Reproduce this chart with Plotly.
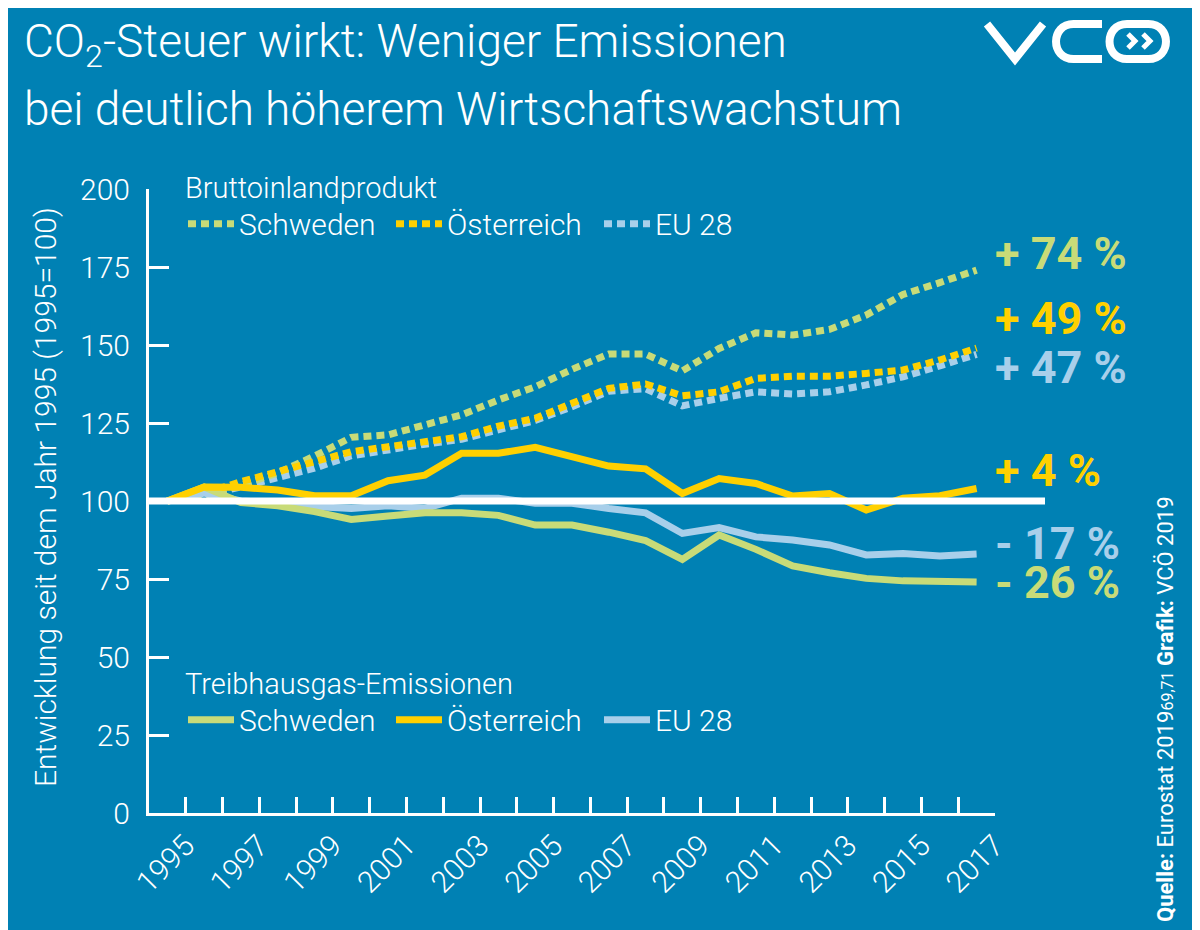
import plotly.graph_objects as go

years = list(range(1995, 2018))

bip_schweden = [100, 102, 105, 109, 114.4, 120.4, 121.2, 124.4, 127.6, 132.4, 136.6, 142.2,
                147.1, 147.1, 141.7, 148.9, 153.9, 153.2, 155, 159.6, 166.2, 170, 174]
bip_oesterreich = [100, 102.5, 106.2, 109.4, 112.6, 115.8, 117.4, 119, 120.6, 124, 126.5, 131.3,
                   136.1, 137.5, 133.7, 135, 139.3, 140, 140, 140.9, 142, 145.2, 149]
bip_eu28 = [100, 101.8, 104.5, 107.5, 110.5, 114.5, 116.5, 118.2, 119.8, 123, 125.8, 130.2,
            135.2, 136, 130.5, 132.9, 135, 134.3, 135, 137.2, 139.8, 143.3, 147]

thg_schweden = [100, 104.5, 99.5, 98.5, 96.6, 94.1, 95.2, 96.2, 96.2, 95.4, 92.3, 92.3,
                90, 87.3, 81.3, 89.1, 84.5, 79.2, 77, 75.2, 74.4, 74.4, 74]
thg_oesterreich = [100, 104.5, 104.4, 103.5, 101.7, 101.7, 106.5, 108.3, 115.3, 115.3, 117.2, 114.2,
                   111.2, 110.3, 102.4, 107.2, 105.6, 101.6, 102.4, 97.1, 100.9, 101.7, 104]
thg_eu28 = [100, 102.5, 100, 99.5, 98.2, 97.6, 98.5, 97.6, 100.9, 100.9, 99.3, 99.3,
            97.6, 96.2, 89.6, 91.5, 88.5, 87.5, 85.9, 82.7, 83.2, 82.4, 83]

y_ticks = [0, 25, 50, 75, 100, 125, 150, 175, 200]
x_labels = years[::2]

BG = "#0081B4"
GREEN = "#C8DB78"
YELLOW = "#FFD000"
BLUE = "#A8CFEA"
FONT = "Roboto"

W, H = 1200, 930
OFF = 8  # die Seite verschiebt die Grafik um 8 px (body margin)
L, R, T, B = 149 - OFF, 205 + OFF, 189 - OFF, 117 + OFF
PW, PH = W - L - R, H - T - B


def pp(x, y):
    # Pixel im Referenzbild -> paper
    return (x - OFF - L) / PW, (H - B - (y - OFF)) / PH


def svg_path(cmds):
    out = []
    for c, pts in cmds:
        s = c
        for (x, y) in pts:
            a, b = pp(x, y)
            s += f" {a:.5f},{b:.5f}"
        out.append(s)
    return " ".join(out)


fig = go.Figure()

series = [
    ("EU 28", bip_eu28, BLUE, "legend", 3),
    ("Schweden", bip_schweden, GREEN, "legend", 1),
    ("Österreich", bip_oesterreich, YELLOW, "legend", 2),
    ("EU 28", thg_eu28, BLUE, "legend2", 3),
    ("Schweden", thg_schweden, GREEN, "legend2", 1),
    ("Österreich", thg_oesterreich, YELLOW, "legend2", 2),
]

for name, vals, col, leg, rank in series:
    dash = "8px,5px" if leg == "legend" else "solid"
    fig.add_trace(go.Scatter(x=years, y=vals, mode="lines", name=name,
                             line=dict(color=col, width=7, dash=dash),
                             legend=leg, legendrank=rank, hoverinfo="skip"))

# Prozent-Beschriftungen rechts
label_series = [bip_schweden, bip_oesterreich, bip_eu28, thg_oesterreich, thg_eu28, thg_schweden]
label_colors = [GREEN, YELLOW, BLUE, YELLOW, BLUE, GREEN]
label_yshift = [17, 30, -13, 18, 11, 0]
for vals, col, ys in zip(label_series, label_colors, label_yshift):
    d = round(vals[-1] - 100)
    txt = f"+ {d} %" if d > 0 else f"- {abs(d)} %"
    fig.add_annotation(x=years[-1], y=vals[-1], text=txt, showarrow=False,
                       xanchor="left", yanchor="middle", xshift=16, yshift=ys,
                       font=dict(family=FONT, size=45, color=col, weight="bold"))

# 100er-Linie
fig.add_shape(type="line", xref="paper", yref="y", x0=0, x1=pp(1045, 0)[0], y0=100, y1=100,
              line=dict(color="white", width=7))

# Titel (zwei Zeilen)
title_lines = ["CO<sub>2</sub>-Steuer wirkt: Weniger Emissionen",
               "bei deutlich höherem Wirtschaftswachstum"]
for txt, yc in zip(title_lines, (45, 109)):
    tx, ty = pp(22, yc)
    fig.add_annotation(xref="paper", yref="paper", x=tx, y=ty, text=txt, showarrow=False,
                       xanchor="left", yanchor="middle",
                       font=dict(family=FONT, size=46, color="white", weight=300))

# Achsentitel
ax, ay = pp(45, 497)
fig.add_annotation(xref="paper", yref="paper", x=ax, y=ay, text="Entwicklung seit dem Jahr 1995 (1995=100)",
                   textangle=-90, showarrow=False, xanchor="center", yanchor="middle",
                   font=dict(family=FONT, size=30, color="white", weight=300))

# Quelle
qx, qy = pp(1165, 709)
fig.add_annotation(xref="paper", yref="paper", x=qx, y=qy, textangle=-90, showarrow=False,
                   xanchor="center", yanchor="middle",
                   text="<b>Quelle:</b> Eurostat 2019<span style='font-size:16px'>69,71</span> <b>Grafik:</b> VCÖ 2019",
                   font=dict(family=FONT, size=22, color="white"))

# Logo
logo = dict(color="white", width=8)
fig.add_shape(type="path", xref="paper", yref="paper", line=logo,
              path=svg_path([("M", [(987, 24)]), ("L", [(1015, 59)]), ("L", [(1043, 24)])]))
fig.add_shape(type="path", xref="paper", yref="paper", line=logo,
              path=svg_path([("M", [(1102, 24)]), ("L", [(1073.5, 24)]),
                             ("C", [(1050.2, 24), (1050.2, 59), (1073.5, 59)]), ("L", [(1102, 59)])]))
fig.add_shape(type="path", xref="paper", yref="paper", line=logo,
              path=svg_path([("M", [(1127, 24)]), ("L", [(1148.5, 24)]),
                             ("C", [(1171.8, 24), (1171.8, 59), (1148.5, 59)]), ("L", [(1127, 59)]),
                             ("C", [(1103.7, 59), (1103.7, 24), (1127, 24)]), ("Z", [])]))
for cx in (1128, 1143):
    fig.add_shape(type="path", xref="paper", yref="paper", line=dict(color="white", width=5),
                  path=svg_path([("M", [(cx, 34)]), ("L", [(cx + 7, 41)]), ("L", [(cx, 48)])]))

lx, ly = pp(183, 160)
lx2, ly2 = pp(183, 656)
legend_common = dict(orientation="h", xanchor="left", yanchor="top", bgcolor="rgba(0,0,0,0)",
                     font=dict(family=FONT, size=30, color="white", weight=300), itemwidth=46,
                     entrywidth=147, entrywidthmode="pixels", traceorder="normal")
legend_title_font = dict(family=FONT, size=29, color="white", weight=300)

fig.update_layout(
    width=W, height=H,
    margin=dict(l=L, r=R, t=T, b=B),
    paper_bgcolor=BG, plot_bgcolor=BG,
    legend=dict(x=lx, y=ly, title=dict(text="Bruttoinlandprodukt", side="top", font=legend_title_font),
                **legend_common),
    legend2=dict(x=lx2, y=ly2, title=dict(text="Treibhausgas-Emissionen", side="top", font=legend_title_font),
                 **legend_common),
    xaxis=dict(range=[1994.5, 2017.5], showgrid=False, zeroline=False, showline=True,
               linecolor="white", linewidth=3, tickmode="array",
               tickvals=[y + 0.5 for y in x_labels], ticktext=[str(y) for y in x_labels],
               ticks="inside", ticklen=16, tickwidth=3, tickcolor="white", tickangle=-45,
               ticklabelstandoff=0,
               tickfont=dict(family=FONT, size=30, color="white", weight=300),
               minor=dict(tickvals=[y + 0.5 for y in years], ticks="inside", ticklen=16,
                          tickwidth=3, tickcolor="white")),
    yaxis=dict(range=[0, 200], showgrid=False, zeroline=False, showline=True,
               linecolor="white", linewidth=3, tickvals=y_ticks, ticks="inside", ticklen=20,
               tickwidth=3, tickcolor="white", ticklabelstandoff=10,
               tickfont=dict(family=FONT, size=30, color="white", weight=300)),
    showlegend=True,
)

fig.write_html("out.html")
